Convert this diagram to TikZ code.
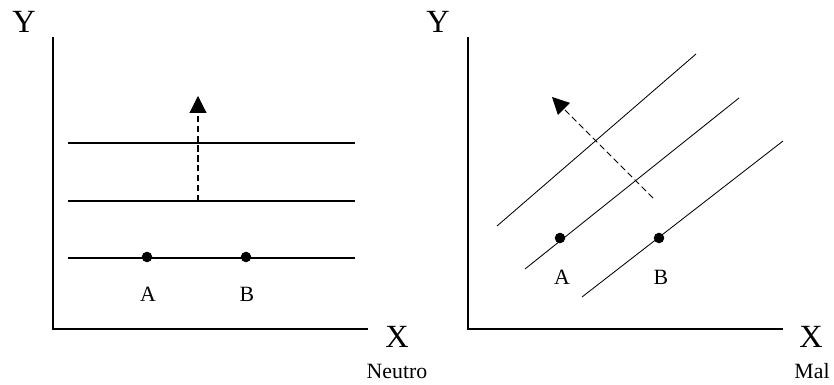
\documentclass[tikz,border=0pt]{standalone}
\usepackage{fontspec}
\setmainfont{Liberation Serif}
\usetikzlibrary{arrows.meta, positioning}

\begin{document}
\begin{tikzpicture}[
    x=0.025cm, y=-0.025cm,
    axis/.style={line width=1.1pt},
    curve/.style={line width=0.8pt},
    move/.style={dash pattern=on 4.5pt off 2.5pt, line width=0.8pt, -{Triangle[length=12pt, width=12pt]}},
    dot/.style={circle, fill, inner sep=0pt, minimum size=7.5pt},
    big/.style={font=\fontsize{23}{26}\selectfont},
    small/.style={font=\fontsize{15.5}{18}\selectfont}
]
    \useasboundingbox (0,0) rectangle (834,385);

    % left panel: neutral good
    \coordinate (o1) at (53,329);
    \coordinate (y1) at (53,37);
    \coordinate (x1) at (368,329);
    \draw[axis] (y1) -- (o1) -- (x1);
    \node[big] (ylab1) at (24,22) {Y};
    \node[big] (xlab1) at (397,337) {X};
    \node[small] (neutro) at (397,371) {Neutro};

    \coordinate (h1s) at (68,258);  \coordinate (h1e) at (355,258);
    \coordinate (h2s) at (68,201);  \coordinate (h2e) at (355,201);
    \coordinate (h3s) at (68,143);  \coordinate (h3e) at (355,143);
    \draw[curve] (h1s) -- (h1e);
    \draw[curve] (h2s) -- (h2e);
    \draw[curve] (h3s) -- (h3e);

    \node[dot] (a1) at (147,257) {};
    \node[dot] (b1) at (246,257) {};
    \node[small] (alab1) at (148,294) {A};
    \node[small] (blab1) at (247,294) {B};

    \coordinate (s1) at (198,201);
    \coordinate (t1) at (198,96);
    \draw[move] (s1) -- (t1);

    % right panel: bad
    \coordinate (o2) at (468,329);
    \coordinate (y2) at (468,37);
    \coordinate (x2) at (783,329);
    \draw[axis] (y2) -- (o2) -- (x2);
    \node[big] (ylab2) at (438,22) {Y};
    \node[big] (xlab2) at (811,337) {X};
    \node[small] (mal) at (812,371) {Mal};

    \coordinate (d1s) at (497,226);  \coordinate (d1e) at (696,54);
    \coordinate (d2s) at (525,269);  \coordinate (d2e) at (739,98);
    \coordinate (d3s) at (582,297);  \coordinate (d3e) at (783,141);
    \draw[curve, line width=0.6pt] (d1s) -- (d1e);
    \draw[curve, line width=0.6pt] (d2s) -- (d2e);
    \draw[curve, line width=0.6pt] (d3s) -- (d3e);

    \node[dot] (a2) at (560,238) {};
    \node[dot] (b2) at (659,238) {};
    \node[small] (alab2) at (562,277) {A};
    \node[small] (blab2) at (661,277) {B};

    \coordinate (s2) at (653,198);
    \coordinate (t2) at (552,97);
    \draw[move, line width=0.6pt] (s2) -- (t2);
\end{tikzpicture}
\end{document}
